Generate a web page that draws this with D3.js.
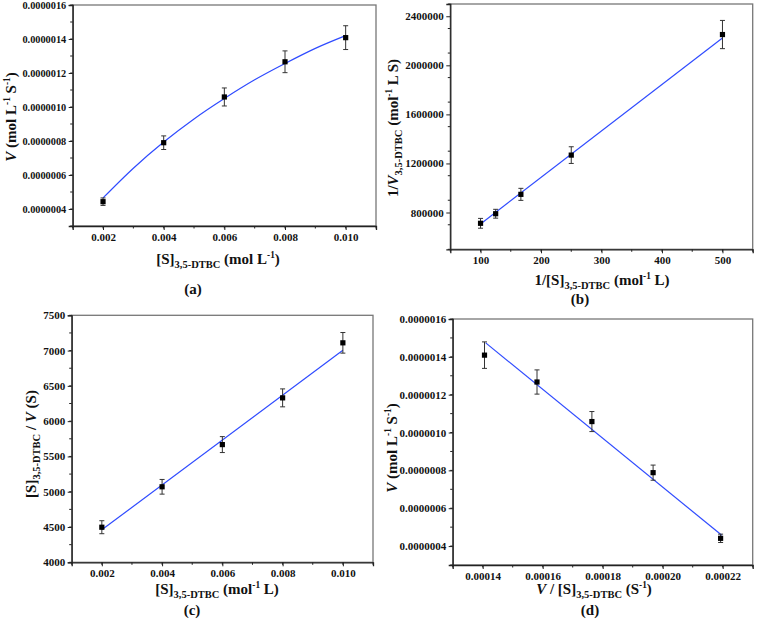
<!DOCTYPE html>
<html><head><meta charset="utf-8">
<script src="https://cdn.jsdelivr.net/npm/d3@7"></script>
<style>
body{margin:0;background:#fff;}
svg text{font-family:"Liberation Serif","Times New Roman",serif;font-weight:bold;fill:#111;}
</style></head>
<body><svg id="c" width="758" height="623"></svg>
<script>
// ---- data ----
const substrate = [0.002, 0.004, 0.006, 0.008, 0.010];
const velocity = [4.43e-7, 7.90e-7, 1.059e-6, 1.266e-6, 1.408e-6];
const velocityErr = [2.2e-8, 4.0e-8, 5.3e-8, 6.4e-8, 7.0e-8];
const fitA_x = [0.002, 0.003, 0.004, 0.005, 0.006, 0.007, 0.008, 0.009, 0.010];
const fitA_y = [4.65e-7, 6.4e-7, 7.94e-7, 9.3e-7, 1.05e-6, 1.16e-6, 1.256e-6, 1.345e-6, 1.42e-6];

const invS = [500, 250, 166.7, 125, 100];
const invV = [2251000, 1268000, 948000, 790000, 712000];
const invVErr = [115000, 68000, 49000, 36000, 40000];
const fitB_x = [100, 500];
const fitB_y = [707000, 2223000];

const sOverV = [4497, 5070, 5668, 6330, 7110];
const sOverVErr = [92, 104, 113, 127, 146];
const fitC_x = [0.002, 0.010];
const fitC_y = [4460, 7005];

const vOverS = [0.0002193, 0.0001968, 0.0001764, 0.0001581, 0.0001406];
const velocityD = [4.41e-7, 7.88e-7, 1.058e-6, 1.267e-6, 1.409e-6];
const fitD_x = [0.000141, 0.0002197];
const fitD_y = [1.474e-6, 4.57e-7];

const ticksA_x = [0.002, 0.004, 0.006, 0.008, 0.010];
const ticksA_y = [4e-7, 6e-7, 8e-7, 1.0e-6, 1.2e-6, 1.4e-6, 1.6e-6];
const ticksB_x = [100, 200, 300, 400, 500];
const ticksB_y = [800000, 1200000, 1600000, 2000000, 2400000];
const ticksC_x = [0.002, 0.004, 0.006, 0.008, 0.010];
const ticksC_y = [4000, 4500, 5000, 5500, 6000, 6500, 7000, 7500];
const ticksD_x = [0.00014, 0.00016, 0.00018, 0.00020, 0.00022];
const ticksD_y = [4e-7, 6e-7, 8e-7, 1.0e-6, 1.2e-6, 1.4e-6, 1.6e-6];

const svg = d3.select("#c");

function richText(g, segs, size) {
  const t = g.append("text").attr("font-size", size);
  let shift = 0;
  segs.forEach(([s, st]) => {
    const ts = t.append("tspan").text(s);
    let target = 0;
    if (st === "sup") { target = -size * 0.38; ts.attr("font-size", size * 0.62); }
    if (st === "sub") { target = size * 0.28; ts.attr("font-size", size * 0.7); }
    if (st === "i") ts.attr("font-style", "italic");
    ts.attr("dy", target - shift);
    shift = target;
  });
  return t;
}

function panel(o) {
  const g = svg.append("g");
  const x = d3.scaleLinear().domain(o.xd).range([o.l, o.r]);
  const y = d3.scaleLinear().domain(o.yd).range([o.b, o.t]);
  g.append("rect").attr("x", o.l).attr("y", o.t).attr("width", o.r - o.l).attr("height", o.b - o.t)
    .attr("fill", "none").attr("stroke", "#777").attr("stroke-width", 1.3);
  const xm = d3.range(o.xd[0], o.xd[1] + o.xminor / 2, o.xminor);
  const ym = d3.range(o.yd[0], o.yd[1] + o.yminor / 2, o.yminor);
  g.selectAll(".xm").data(xm).enter().append("line")
    .attr("x1", d => x(d)).attr("x2", d => x(d)).attr("y1", o.b).attr("y2", o.b + 2.5)
    .attr("stroke", "#222");
  g.selectAll(".ym").data(ym).enter().append("line")
    .attr("y1", d => y(d)).attr("y2", d => y(d)).attr("x1", o.l).attr("x2", o.l - 2.5)
    .attr("stroke", "#222");
  const xa = g.append("g").attr("transform", `translate(0,${o.b})`)
    .call(d3.axisBottom(x).tickValues(o.xt).tickSize(4).tickPadding(3).tickFormat(o.xf));
  const ya = g.append("g").attr("transform", `translate(${o.l},0)`)
    .call(d3.axisLeft(y).tickValues(o.yt).tickSize(4).tickPadding(2.5).tickFormat(o.yf));
  [xa, ya].forEach(a => {
    a.select(".domain").attr("stroke", "#222").attr("stroke-width", 1.3);
    a.selectAll(".tick line").attr("stroke", "#222");
    a.selectAll("text").attr("font-family", "Liberation Serif").attr("font-weight", "bold").attr("fill", "#111");
  });
  xa.selectAll("text").attr("font-size", 11);
  ya.selectAll("text").attr("font-size", o.ytfs || 11);
  const fit = o.fx.map((v, i) => [v, o.fy[i]]);
  g.append("path").datum(fit).attr("fill", "none").attr("stroke", "#2f4bff").attr("stroke-width", 1.2)
    .attr("d", d3.line().x(d => x(d[0])).y(d => y(d[1])).curve(d3.curveMonotoneX));
  const pts = o.px.map((v, i) => ({ x: v, y: o.py[i], e: o.pe[i] }));
  const eb = g.selectAll(".eb").data(pts).enter().append("g").attr("stroke", "#333").attr("stroke-width", 1);
  eb.append("line").attr("x1", d => x(d.x)).attr("x2", d => x(d.x)).attr("y1", d => y(d.y - d.e)).attr("y2", d => y(d.y + d.e));
  eb.append("line").attr("x1", d => x(d.x) - 2.5).attr("x2", d => x(d.x) + 2.5).attr("y1", d => y(d.y - d.e)).attr("y2", d => y(d.y - d.e));
  eb.append("line").attr("x1", d => x(d.x) - 2.5).attr("x2", d => x(d.x) + 2.5).attr("y1", d => y(d.y + d.e)).attr("y2", d => y(d.y + d.e));
  g.selectAll(".pt").data(pts).enter().append("rect")
    .attr("x", d => x(d.x) - 2.6).attr("y", d => y(d.y) - 2.6).attr("width", 5.2).attr("height", 5.2).attr("fill", "#000");
  richText(g, o.xtitle, 15).attr("text-anchor", "middle").attr("x", o.xtx).attr("y", o.xty);
  richText(g, o.ytitle, 15).attr("text-anchor", "middle")
    .attr("transform", `translate(${o.ytx},${o.yty}) rotate(-90)`);
  g.append("text").attr("font-size", 15).attr("text-anchor", "middle").attr("x", o.sx).attr("y", o.sy).text(o.sub);
}

const f3 = d3.format(".3f");
const f7 = d3.format(".7f");
const f5 = d3.format(".5f");
const fi = d3.format("d");

panel({ l: 72.7, r: 376, t: 5, b: 226, xd: [0.001, 0.011], yd: [3e-7, 1.6e-6],
  xt: ticksA_x, yt: ticksA_y, xminor: 0.001, yminor: 1e-7, xf: f3, yf: f7, ytfs: 10.3,
  px: substrate, py: velocity, pe: velocityErr, fx: fitA_x, fy: fitA_y,
  xtitle: [["[S]", ""], ["3,5-DTBC", "sub"], [" (mol L", ""], ["-1", "sup"], [")", ""]], xtx: 218, xty: 264,
  ytitle: [["V", "i"], [" (mol L", ""], ["-1", "sup"], [" S", ""], ["-1", "sup"], [")", ""]], ytx: 16, yty: 117,
  sub: "(a)", sx: 193, sy: 294 });

panel({ l: 450.3, r: 752.7, t: 4, b: 249.3, xd: [50, 550], yd: [500000, 2500000],
  xt: ticksB_x, yt: ticksB_y, xminor: 50, yminor: 200000, xf: fi, yf: fi,
  px: invS, py: invV, pe: invVErr, fx: fitB_x, fy: fitB_y,
  xtitle: [["1/[S]", ""], ["3,5-DTBC", "sub"], [" (mol", ""], ["-1", "sup"], [" L)", ""]], xtx: 602, xty: 285,
  ytitle: [["1/", ""], ["V", "i"], ["3,5-DTBC", "sub"], [" (mol", ""], ["-1", "sup"], [" L S)", ""]], ytx: 398, yty: 128,
  sub: "(b)", sx: 580, sy: 304 });

panel({ l: 71.7, r: 373, t: 315.3, b: 562.3, xd: [0.001, 0.011], yd: [4000, 7500],
  xt: ticksC_x, yt: ticksC_y, xminor: 0.001, yminor: 250, xf: f3, yf: fi,
  px: substrate, py: sOverV, pe: sOverVErr, fx: fitC_x, fy: fitC_y,
  xtitle: [["[S]", ""], ["3,5-DTBC", "sub"], [" (mol", ""], ["-1", "sup"], [" L)", ""]], xtx: 217, xty: 594,
  ytitle: [["[S]", ""], ["3,5-DTBC", "sub"], [" / ", ""], ["V", "i"], [" (S)", ""]], ytx: 36, yty: 444,
  sub: "(c)", sx: 192, sy: 615 });

panel({ l: 452.7, r: 752.7, t: 319, b: 565, xd: [0.00013, 0.00023], yd: [3e-7, 1.6e-6],
  xt: ticksD_x, yt: ticksD_y, xminor: 0.00001, yminor: 1e-7, xf: f5, yf: f7,
  px: vOverS, py: velocityD, pe: velocityErr, fx: fitD_x, fy: fitD_y,
  xtitle: [["V", "i"], [" / [S]", ""], ["3,5-DTBC", "sub"], [" (S", ""], ["-1", "sup"], [")", ""]], xtx: 594, xty: 594,
  ytitle: [["V", "i"], [" (mol L", ""], ["-1", "sup"], [" S", ""], ["-1", "sup"], [")", ""]], ytx: 397, yty: 448,
  sub: "(d)", sx: 590, sy: 615 });
</script></body></html>
